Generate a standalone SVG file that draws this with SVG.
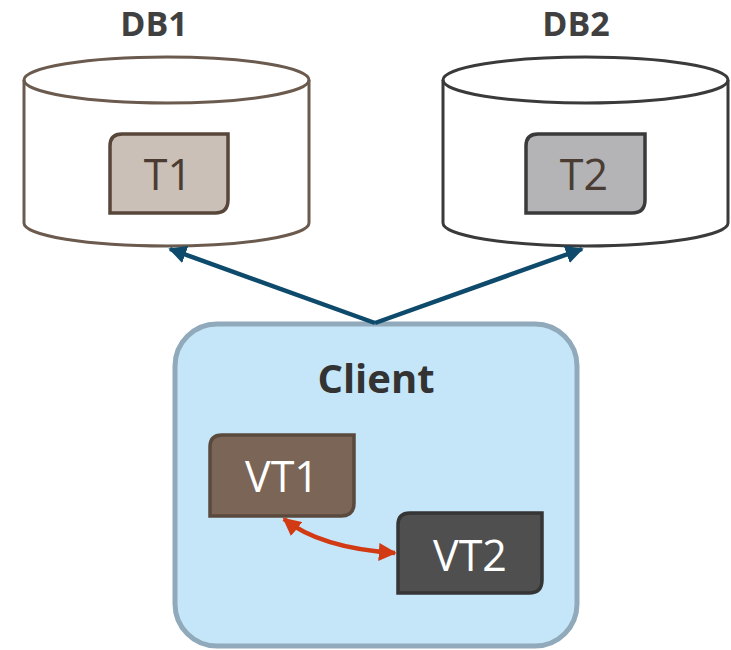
<svg xmlns="http://www.w3.org/2000/svg" width="731" height="650" viewBox="0 0 731 650">
  <style>
    .title { font-family: "Open Sans", "DejaVu Sans", sans-serif; font-weight: bold; font-size: 34px; fill: #404040; text-anchor: middle; }
    .cyl { fill: #ffffff; stroke-width: 3; }
    .tbl { stroke-width: 3.5; }
    .lbl { font-family: "Open Sans", "DejaVu Sans", sans-serif; font-size: 43px; text-anchor: middle; }
    .link { fill: none; stroke: #0e4a6b; stroke-width: 4.5; }
    .swap { fill: none; stroke: #d23a14; stroke-width: 4.5; }
  </style>
  <defs>
    <marker id="headBlue" viewBox="0 0 10 10" refX="9" refY="5" markerWidth="4" markerHeight="4" orient="auto-start-reverse" markerUnits="strokeWidth">
      <path d="M0,0 L10,5 L0,10 z" fill="#0e4a6b"/>
    </marker>
    <marker id="headRed" viewBox="0 0 10 10" refX="9" refY="5" markerWidth="4" markerHeight="4" orient="auto-start-reverse" markerUnits="strokeWidth">
      <path d="M0,0 L10,5 L0,10 z" fill="#d23a14"/>
    </marker>
  </defs>

  <!-- Database DB1 -->
  <g id="db1">
    <text class="title" x="154" y="36">DB1</text>
    <path class="cyl" stroke="#6b5a4e" d="M24,80 A142.5,23 0 0 1 309,80 L309,223 A142.5,23 0 0 1 24,223 Z"/>
    <path fill="none" stroke="#6b5a4e" stroke-width="3" d="M24,80 A142.5,23 0 0 0 309,80"/>
    <g id="t1">
      <path class="tbl" fill="#cac0b7" stroke="#574639" d="M122,134 L228,134 L228,200 Q228,213 215,213 L110,213 L110,146 Q110,134 122,134 Z"/>
      <text class="lbl" x="168" y="190" font-size="44" fill="#4a3c32">T1</text>
    </g>
  </g>

  <!-- Database DB2 -->
  <g id="db2">
    <text class="title" x="576" y="36">DB2</text>
    <path class="cyl" stroke="#3a3a3a" d="M443,80 A142.5,23 0 0 1 728,80 L728,223 A142.5,23 0 0 1 443,223 Z"/>
    <path fill="none" stroke="#3a3a3a" stroke-width="3" d="M443,80 A142.5,23 0 0 0 728,80"/>
    <g id="t2">
      <path class="tbl" fill="#b4b4b6" stroke="#3a3a3a" d="M538,134 L645,134 L645,200 Q645,213 632,213 L526,213 L526,146 Q526,134 538,134 Z"/>
      <text class="lbl" x="584" y="190" font-size="44" fill="#4a3c32">T2</text>
    </g>
  </g>

  <!-- Client container -->
  <g id="client">
    <rect x="175" y="324" width="402" height="322" rx="42" ry="42" fill="#c5e6f8" stroke="#90aabb" stroke-width="5"/>
    <text x="376" y="393" font-family="'Open Sans', 'DejaVu Sans', sans-serif" font-weight="bold" font-size="40" fill="#333333" text-anchor="middle">Client</text>
  </g>

  <g id="vt1">
    <path class="tbl" fill="#7a6556" stroke="#5a4a3e" d="M222,435 L354,435 L354,503 Q354,516 341,516 L210,516 L210,447 Q210,435 222,435 Z"/>
    <text class="lbl" x="282" y="492" fill="#ffffff">VT1</text>
  </g>

  <g id="vt2">
    <path class="tbl" fill="#4f4f4f" stroke="#353535" d="M410,513 L542,513 L542,580 Q542,593 529,593 L398,593 L398,525 Q398,513 410,513 Z"/>
    <text class="lbl" x="470" y="571" fill="#ffffff">VT2</text>
  </g>

  <!-- Connectors -->
  <g id="connectors">
    <path class="link" d="M375,323 L170,249" marker-end="url(#headBlue)"/>
    <path class="link" d="M375,323 L582,249" marker-end="url(#headBlue)"/>
    <path class="swap" d="M284,519 Q320,548 395,553" marker-start="url(#headRed)" marker-end="url(#headRed)"/>
  </g>
</svg>
